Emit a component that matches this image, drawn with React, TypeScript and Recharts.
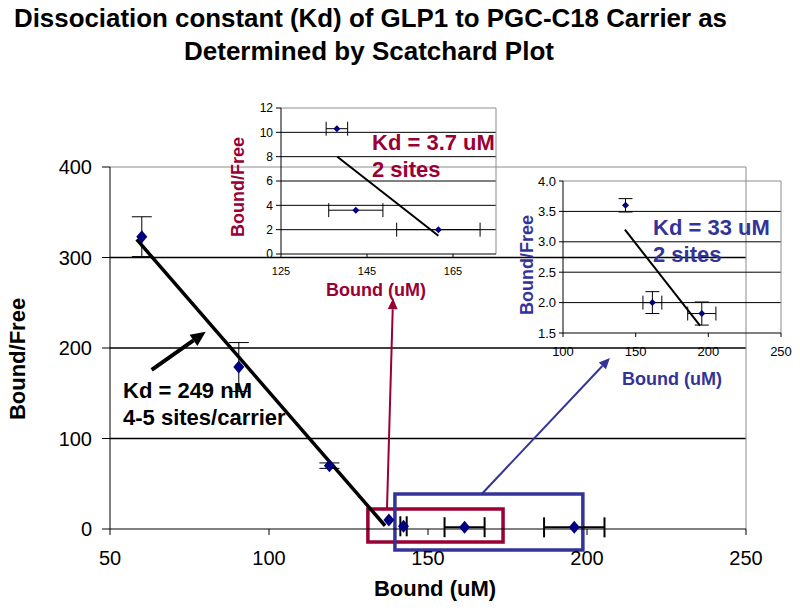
import React from "react";
import {
  ScatterChart,
  Scatter,
  XAxis,
  YAxis,
  ErrorBar,
  ReferenceLine,
  ReferenceArea,
} from "recharts";

// main Scatchard plot (Bound uM vs Bound/Free)
const boundMain = [60, 90.5, 119, 137.7, 142.3, 161.5, 196];
const ratioMain = [323, 179, 70, 10, 3, 2, 1.8];
const errRatioMain = [22, 27, 3, 0, 0, 0, 0];
const errBoundMain = [0, 0, 0, 0, 1, 6.3, 9.5];
const fitBoundMain = [58.4, 136.5];
const fitRatioMain = [320, 3.6];
const mainXTicks = [50, 100, 150, 200, 250];
const mainYTicks = [0, 100, 200, 300, 400];

// inset 1 (Kd = 3.7 uM)
const boundIn1 = [138, 142.4, 161.6];
const ratioIn1 = [10.3, 3.6, 2.0];
const errBoundIn1 = [2.5, 6.3, 9.7];
const fitBoundIn1 = [138.1, 161.6];
const fitRatioIn1 = [8.0, 1.5];
const in1XTicks = [125, 145, 165];
const in1YTicks = [0, 2, 4, 6, 8, 10, 12];

// inset 2 (Kd = 33 uM)
const boundIn2 = [143, 161.5, 195.5];
const ratioIn2 = [3.6, 2.0, 1.82];
const errBoundIn2 = [0, 6.5, 9.7];
const errRatioIn2 = [0.11, 0.18, 0.19];
const fitBoundIn2 = [142.6, 194.3];
const fitRatioIn2 = [3.2, 1.62];
const in2XTicks = [100, 150, 200, 250];
const in2YTicks = [1.5, 2, 2.5, 3, 3.5, 4];

const FONT = "'Liberation Sans', Arial, sans-serif";
const NAVY = "#000080";
const MAROON = "#990033";
const BLUE = "#333399";
const GRAY = "#8c8c8c";

const mainData = boundMain.map((x, i) => ({
  x,
  y: ratioMain[i],
  ex: errBoundMain[i],
  ey: errRatioMain[i],
}));
const mainFit = fitBoundMain.map((x, i) => ({ x, y: fitRatioMain[i] }));
const in1Data = boundIn1.map((x, i) => ({ x, y: ratioIn1[i], ex: errBoundIn1[i] }));
const in1Fit = fitBoundIn1.map((x, i) => ({ x, y: fitRatioIn1[i] }));
const in2Data = boundIn2.map((x, i) => ({
  x,
  y: ratioIn2[i],
  ex: errBoundIn2[i],
  ey: errRatioIn2[i],
}));
const in2Fit = fitBoundIn2.map((x, i) => ({ x, y: fitRatioIn2[i] }));

const diamond = (rx: number, ry: number) => (p: any) =>
  (
    <polygon
      points={`${p.cx},${p.cy - ry} ${p.cx + rx},${p.cy} ${p.cx},${p.cy + ry} ${p.cx - rx},${p.cy}`}
      fill={NAVY}
    />
  );

const noShape = () => <g />;

const arrow = (color: string, width: number, head: number) => (p: any) => {
  const { x1, y1, x2, y2 } = p;
  const a = Math.atan2(y2 - y1, x2 - x1);
  const bx = x2 - head * Math.cos(a);
  const by = y2 - head * Math.sin(a);
  const w = head * 0.45;
  return (
    <g>
      <line x1={x1} y1={y1} x2={bx} y2={by} stroke={color} strokeWidth={width} />
      <polygon
        points={`${x2},${y2} ${bx + w * Math.sin(a)},${by - w * Math.cos(a)} ${bx - w * Math.sin(a)},${by + w * Math.cos(a)}`}
        fill={color}
      />
    </g>
  );
};

const axisProps = {
  axisLine: { stroke: "#000" },
  tickLine: { stroke: "#000" },
};

export default function App() {
  return (
    <div
      style={{
        position: "absolute",
        left: 0,
        top: 0,
        width: 800,
        height: 614,
        background: "#fff",
        fontFamily: FONT,
      }}>
      <div style={{ position: "absolute", left: 0, top: 0 }}>
        <ScatterChart
          width={800}
          height={614}
          margin={{ top: 167, right: 54, bottom: 45, left: 50 }}>
          <XAxis
            type="number"
            dataKey="x"
            domain={[50, 250]}
            ticks={mainXTicks}
            tickSize={6}
            tickMargin={16}
            height={40}
            tick={{ fontSize: 20, fill: "#000", fontFamily: FONT }}
            {...axisProps}
          />
          <YAxis
            type="number"
            dataKey="y"
            domain={[0, 400]}
            ticks={mainYTicks}
            tickSize={8}
            tickMargin={10}
            width={60}
            tick={{ fontSize: 20, fill: "#000", fontFamily: FONT }}
            {...axisProps}
          />
          <ReferenceLine y={100} stroke="#000" strokeWidth={1.3} />
          <ReferenceLine y={200} stroke="#000" strokeWidth={1.3} />
          <ReferenceLine y={300} stroke="#000" strokeWidth={1.3} />
          <ReferenceLine y={400} stroke={GRAY} />
          <ReferenceLine x={250} stroke={GRAY} />
          <ReferenceArea
            x1={131.1}
            x2={173.6}
            y1={-14.4}
            y2={22.1}
            fill="none"
            fillOpacity={0}
            stroke={MAROON}
            strokeWidth={3.5}
            ifOverflow="visible"
          />
          <ReferenceArea
            x1={139.6}
            x2={198.7}
            y1={-23.2}
            y2={38.7}
            fill="none"
            fillOpacity={0}
            stroke={BLUE}
            strokeWidth={3.5}
            ifOverflow="visible"
          />
          <ReferenceLine
            segment={[{ x: 137.1, y: 22.1 }, { x: 139, y: 255 }]}
            ifOverflow="visible"
            shape={arrow(MAROON, 2, 11)}
          />
          <ReferenceLine
            segment={[{ x: 166.9, y: 38.7 }, { x: 207.2, y: 189 }]}
            ifOverflow="visible"
            shape={arrow(BLUE, 2, 11)}
          />
          <ReferenceLine
            segment={[{ x: 63.1, y: 175.7 }, { x: 80.1, y: 218 }]}
            ifOverflow="visible"
            shape={arrow("#000", 4, 15)}
          />
          <Scatter
            data={mainFit}
            line={{ stroke: "#000", strokeWidth: 3.5 }}
            lineType="joint"
            shape={noShape}
            isAnimationActive={false}
          />
          <Scatter data={mainData} shape={diamond(5.5, 6.5)} isAnimationActive={false}>
            <ErrorBar
              dataKey="ey"
              direction="y"
              width={10}
              stroke="#000"
              strokeWidth={1}
              isAnimationActive={false}
            />
            <ErrorBar
              dataKey="ex"
              direction="x"
              width={10}
              stroke="#000"
              strokeWidth={2}
              isAnimationActive={false}
            />
          </Scatter>
        </ScatterChart>
      </div>

      <div style={{ position: "absolute", left: 220, top: 95 }}>
        <ScatterChart
          width={290}
          height={210}
          margin={{ top: 13, right: 14, bottom: 26, left: 31 }}>
          <XAxis
            type="number"
            dataKey="x"
            domain={[125, 175]}
            ticks={in1XTicks}
            tickSize={4}
            tickMargin={9}
            height={25}
            tick={{ fontSize: 11, fill: "#000", fontFamily: FONT }}
            {...axisProps}
          />
          <YAxis
            type="number"
            dataKey="y"
            domain={[0, 12]}
            ticks={in1YTicks}
            tickSize={5}
            tickMargin={3}
            width={30}
            tick={{ fontSize: 12, fill: "#000", fontFamily: FONT }}
            {...axisProps}
          />
          <ReferenceLine y={2} stroke="#000" />
          <ReferenceLine y={4} stroke="#000" />
          <ReferenceLine y={6} stroke="#000" />
          <ReferenceLine y={8} stroke="#000" />
          <ReferenceLine y={10} stroke="#000" />
          <ReferenceLine y={12} stroke={GRAY} />
          <ReferenceLine x={175} stroke={GRAY} />
          <Scatter
            data={in1Fit}
            line={{ stroke: "#000", strokeWidth: 2 }}
            lineType="joint"
            shape={noShape}
            isAnimationActive={false}
          />
          <Scatter data={in1Data} shape={diamond(3.5, 3.5)} isAnimationActive={false}>
            <ErrorBar
              dataKey="ex"
              direction="x"
              width={7}
              stroke="#000"
              strokeWidth={1}
              isAnimationActive={false}
            />
          </Scatter>
        </ScatterChart>
      </div>

      <div style={{ position: "absolute", left: 480, top: 165 }}>
        <ScatterChart
          width={320}
          height={230}
          margin={{ top: 16, right: 19, bottom: 37, left: 48 }}>
          <XAxis
            type="number"
            dataKey="x"
            domain={[100, 250]}
            ticks={in2XTicks}
            tickSize={4}
            tickMargin={10}
            height={25}
            tick={{ fontSize: 13, fill: "#000", fontFamily: FONT }}
            {...axisProps}
          />
          <YAxis
            type="number"
            dataKey="y"
            domain={[1.5, 4]}
            ticks={in2YTicks}
            tickFormatter={(v: number) => v.toFixed(1)}
            tickSize={4}
            tickMargin={3}
            width={35}
            tick={{ fontSize: 13, fill: "#000", fontFamily: FONT }}
            {...axisProps}
          />
          <ReferenceLine y={2} stroke="#000" />
          <ReferenceLine y={2.5} stroke="#000" />
          <ReferenceLine y={3} stroke="#000" />
          <ReferenceLine y={3.5} stroke="#000" />
          <ReferenceLine y={4} stroke={GRAY} />
          <ReferenceLine x={250} stroke={GRAY} />
          <Scatter
            data={in2Fit}
            line={{ stroke: "#000", strokeWidth: 2 }}
            lineType="joint"
            shape={noShape}
            isAnimationActive={false}
          />
          <Scatter data={in2Data} shape={diamond(3.5, 3.5)} isAnimationActive={false}>
            <ErrorBar
              dataKey="ey"
              direction="y"
              width={7}
              stroke="#000"
              strokeWidth={1}
              isAnimationActive={false}
            />
            <ErrorBar
              dataKey="ex"
              direction="x"
              width={7}
              stroke="#000"
              strokeWidth={1}
              isAnimationActive={false}
            />
          </Scatter>
        </ScatterChart>
      </div>

      {/* title, axis titles and notes */}
      <svg
        width={800}
        height={614}
        style={{ position: "absolute", left: 0, top: 0, pointerEvents: "none" }}
        fontFamily={FONT}
        fontWeight="bold">
        <text x={14} y={27} fontSize={25} textLength={713} lengthAdjust="spacingAndGlyphs">
          Dissociation constant (Kd) of GLP1 to PGC-C18 Carrier as
        </text>
        <text x={184} y={60} fontSize={25} textLength={370} lengthAdjust="spacingAndGlyphs">
          Determined by Scatchard Plot
        </text>

        <text
          x={17}
          y={359}
          fontSize={22}
          textAnchor="middle"
          dominantBaseline="central"
          transform="rotate(-90 17 359)">
          Bound/Free
        </text>
        <text x={435} y={588} fontSize={22} textAnchor="middle" dominantBaseline="central">
          Bound (uM)
        </text>
        <text x={123} y={398} fontSize={22}>
          Kd = 249 nM
        </text>
        <text x={123} y={425} fontSize={22}>
          4-5 sites/carrier
        </text>

        <text
          x={238}
          y={187}
          fontSize={18}
          fill={MAROON}
          textAnchor="middle"
          dominantBaseline="central"
          transform="rotate(-90 238 187)">
          Bound/Free
        </text>
        <text x={376} y={290} fontSize={18} fill={MAROON} textAnchor="middle" dominantBaseline="central">
          Bound (uM)
        </text>
        <text x={372} y={150} fontSize={22} fill={MAROON}>
          Kd = 3.7 uM
        </text>
        <text x={372} y={177} fontSize={22} fill={MAROON}>
          2 sites
        </text>

        <text
          x={527}
          y={265}
          fontSize={18}
          fill={BLUE}
          textAnchor="middle"
          dominantBaseline="central"
          transform="rotate(-90 527 265)">
          Bound/Free
        </text>
        <text x={672} y={379} fontSize={18} fill={BLUE} textAnchor="middle" dominantBaseline="central">
          Bound (uM)
        </text>
        <text x={653} y={235} fontSize={22} fill={BLUE}>
          Kd = 33 uM
        </text>
        <text x={653} y={262} fontSize={22} fill={BLUE}>
          2 sites
        </text>
      </svg>
    </div>
  );
}
